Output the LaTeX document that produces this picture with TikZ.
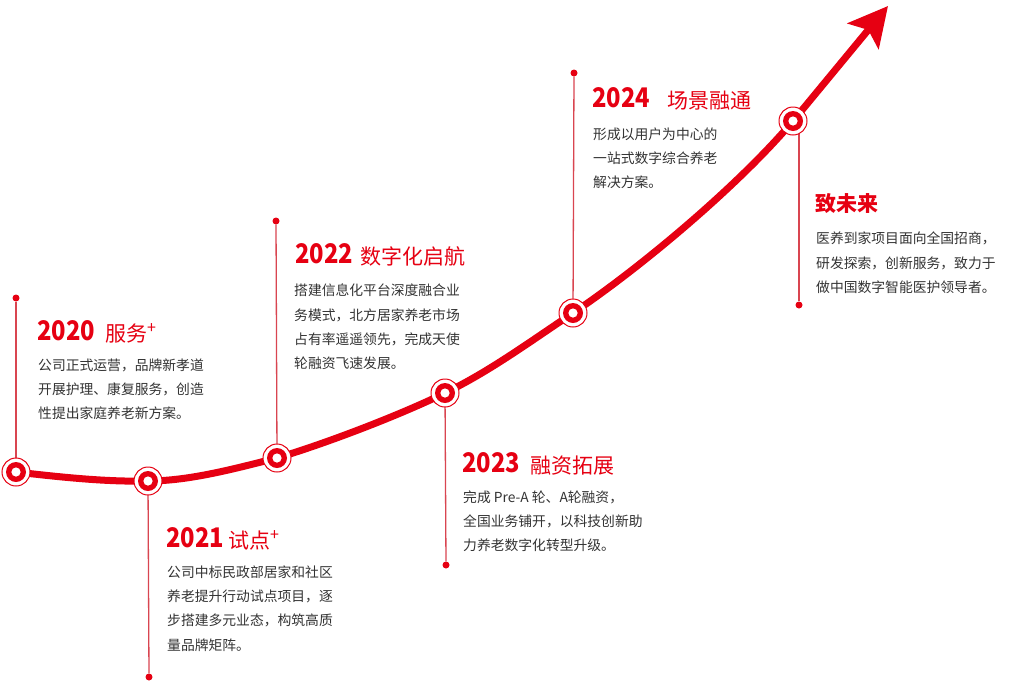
\documentclass[tikz,border=0pt]{standalone}
\usepackage{fontspec}
\setmainfont{Noto Sans CJK SC}
\usetikzlibrary{arrows.meta}
\definecolor{brandred}{HTML}{E60012}
\definecolor{bodygray}{HTML}{333333}
\definecolor{stemred}{HTML}{D94550}
\newcommand{\yrtxt}[1]{\scalebox{0.88}[1]{#1}}
\newcommand{\plustxt}{\raisebox{8pt}{\fontsize{16}{16}\selectfont +}}
\begin{document}
\begin{tikzpicture}[x=1pt,y=-1pt,
  body/.style={anchor=base west,inner sep=0pt,font=\fontsize{13.8}{16}\selectfont,text=bodygray},
  yr/.style={anchor=base west,inner sep=0pt,font=\fontsize{27}{27}\selectfont\bfseries,text=brandred},
  ttl/.style={anchor=base west,inner sep=0pt,font=\fontsize{21}{21}\selectfont,text=brandred},
  stem/.style={draw=stemred,line width=1.3pt},
  dotc/.style={circle,fill=brandred,inner sep=0pt,minimum size=7pt},
  marker/.style={circle,inner sep=0pt,minimum size=28pt,draw=brandred,line width=1pt,fill=white,
    path picture={\fill[brandred] (path picture bounding box.center) circle (10pt);
                  \fill[white] (path picture bounding box.center) circle (4.6pt);}},
]
\useasboundingbox (0,0) rectangle (1022,681);
\fill[white] (0,0) rectangle (1022,681);

% curve points
\coordinate (c0) at (16,472);
\coordinate (c1) at (148,481);
\coordinate (c2) at (277,458);
\coordinate (c3) at (445,393);
\coordinate (c4) at (573,313);
\coordinate (c5) at (793,121);
\coordinate (tip) at (888,6);

\draw[brandred,line width=7pt,-{Stealth[length=39pt,width=40pt,inset=8pt]}]
  (c0) .. controls (60,477) and (105,482) .. (c1)
       .. controls (190,481) and (237,468) .. (c2)
       .. controls (327,443) and (400,415) .. (c3)
       .. controls (490,371) and (528,343) .. (c4)
       .. controls (640,268) and (738,186) .. (c5)
       -- (tip);

% dots
\node[dotc] (d0) at (16,298) {};
\node[dotc] (d1) at (149,677) {};
\node[dotc] (d2) at (276,221) {};
\node[dotc] (d3) at (446,565) {};
\node[dotc] (d4) at (574,73) {};
\node[dotc] (d5) at (799,305) {};

% stems
\draw[stem] (d0) -- (c0);
\draw[stem] (d1) -- (c1);
\draw[stem] (d2) -- (c2);
\draw[stem] (d3) -- (c3);
\draw[stem] (d4) -- (c4);
\draw[stem] (d5) -- (d5 |- c5);

% markers
\node[marker] (k0) at (c0) {};
\node[marker] (k1) at (c1) {};
\node[marker] (k2) at (c2) {};
\node[marker] (k3) at (c3) {};
\node[marker] (k4) at (c4) {};
\node[marker] (k5) at (c5) {};

% 2020
\node[yr] (y0) at (37,340) {\yrtxt{2020}};
\node[ttl] (t0) at (105,341) {服务\plustxt};
\node[body] (b0a) at (38,370.5) {公司正式运营，品牌新孝道};
\node[body] (b0b) at (38,394.5) {开展护理、康复服务，创造};
\node[body] (b0c) at (38,418.5) {性提出家庭养老新方案。};

% 2021
\node[yr] (y1) at (166,547) {\yrtxt{2021}};
\node[ttl] (t1) at (228,548) {试点\plustxt};
\node[body] (b1a) at (167,577) {公司中标民政部居家和社区};
\node[body] (b1b) at (167,601.5) {养老提升行动试点项目，逐};
\node[body] (b1c) at (167,625.5) {步搭建多元业态，构筑高质};
\node[body] (b1d) at (167,650) {量品牌矩阵。};

% 2022
\node[yr] (y2) at (295,263) {\yrtxt{2022}};
\node[ttl] (t2) at (360,264) {数字化启航};
\node[body] (b2a) at (294,295.5) {搭建信息化平台深度融合业};
\node[body] (b2b) at (294,320) {务模式，北方居家养老市场};
\node[body] (b2c) at (294,344.5) {占有率遥遥领先，完成天使};
\node[body] (b2d) at (294,368.5) {轮融资飞速发展。};

% 2023
\node[yr] (y3) at (462,472) {\yrtxt{2023}};
\node[ttl] (t3) at (530,473) {融资拓展};
\node[body] (b3a) at (463,502.5) {完成 Pre-A 轮、A轮融资，};
\node[body] (b3b) at (463,526.5) {全国业务铺开，以科技创新助};
\node[body] (b3c) at (463,550.5) {力养老数字化转型升级。};

% 2024
\node[yr] (y4) at (592,107) {\yrtxt{2024}};
\node[ttl] (t4) at (667,108) {场景融通};
\node[body] (b4a) at (593,139) {形成以用户为中心的};
\node[body] (b4b) at (593,163) {一站式数字综合养老};
\node[body] (b4c) at (593,187) {解决方案。};

% future
\node[ttl,font=\fontsize{21}{21}\selectfont\bfseries] (t5) at (815,211) {致未来};
\node[body] (b5a) at (816,243.5) {医养到家项目面向全国招商，};
\node[body] (b5b) at (816,268) {研发探索，创新服务，致力于};
\node[body] (b5c) at (816,292) {做中国数字智能医护领导者。};
\end{tikzpicture}
\end{document}
